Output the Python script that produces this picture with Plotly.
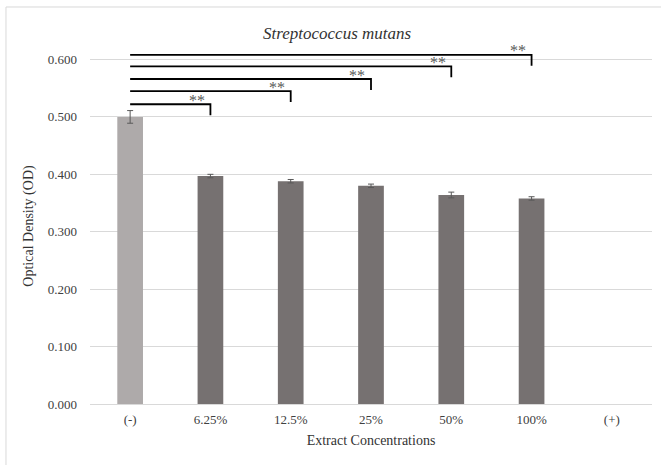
import plotly.graph_objects as go

categories = ["(-)", "6.25%", "12.5%", "25%", "50%", "100%", "(+)"]
od_values = [0.500, 0.397, 0.388, 0.380, 0.364, 0.358, None]
od_errors = [0.011, 0.003, 0.003, 0.003, 0.005, 0.003, 0]
bar_colors = ["#AEAAAA", "#767171", "#767171", "#767171", "#767171", "#767171", "#767171"]

# significance brackets: from "(-)" to target category
bracket_targets = ["6.25%", "12.5%", "25%", "50%", "100%"]
bracket_levels = [0.522, 0.545, 0.566, 0.588, 0.608]
bracket_drop = 0.019
bracket_label = "**"

serif = "Liberation Serif"

fig = go.Figure()
fig.add_trace(go.Bar(
    x=categories, y=od_values,
    marker=dict(color=bar_colors, line=dict(width=0)),
    width=0.32,
    error_y=dict(type="data", array=od_errors, visible=True,
                 color="#595959", thickness=1, width=3),
    showlegend=False, hoverinfo="x+y",
))

for tgt, lvl in zip(bracket_targets, bracket_levels):
    fig.add_trace(go.Scatter(
        x=[categories[0], tgt, tgt], y=[lvl, lvl, lvl - bracket_drop],
        mode="lines", line=dict(color="black", width=1.8),
        showlegend=False, hoverinfo="skip",
    ))
    fig.add_annotation(
        x=categories.index(tgt) - 0.17, y=lvl, xref="x", yref="y",
        text=bracket_label, showarrow=False, yanchor="middle", yshift=4,
        font=dict(family=serif, size=16, color="#595959"),
    )

fig.update_layout(
    width=661, height=465,
    margin=dict(l=90, r=9, t=48, b=61),
    paper_bgcolor="white", plot_bgcolor="white",
    title=dict(text="<i>Streptococcus mutans</i>", xref="container", yref="container",
               x=0.51, y=1 - 33 / 465, xanchor="center", yanchor="middle",
               font=dict(family=serif, size=17, color="#333333")),
    font=dict(family=serif, color="#404040"),
    bargap=0.68,
    shapes=[dict(type="rect", xref="paper", yref="paper",
                 x0=-0.1495, y0=-0.3, x1=1.1, y1=1.1152,
                 line=dict(color="#D9D9D9", width=1), layer="below")],
)
fig.update_xaxes(
    type="category", categoryorder="array", categoryarray=categories,
    showgrid=False, showline=True, linecolor="#D9D9D9", linewidth=1,
    ticks="", tickfont=dict(family=serif, size=13, color="#404040"),
    ticklabelstandoff=3,
    title=dict(text="Extract Concentrations", standoff=9,
               font=dict(family=serif, size=14, color="#333333")),
)
fig.update_yaxes(
    range=[0, 0.62], tickvals=[0, 0.1, 0.2, 0.3, 0.4, 0.5, 0.6],
    tickformat=".3f", showgrid=True, gridcolor="#D9D9D9", gridwidth=1,
    zeroline=False, showline=False, ticks="",
    tickfont=dict(family=serif, size=13, color="#404040"),
    ticklabelstandoff=12,
    title=dict(text="Optical Density (OD)", standoff=10,
               font=dict(family=serif, size=14, color="#333333")),
)

fig.write_html("out.html", config={"displayModeBar": False},
               post_script="document.body.style.margin='0';")
